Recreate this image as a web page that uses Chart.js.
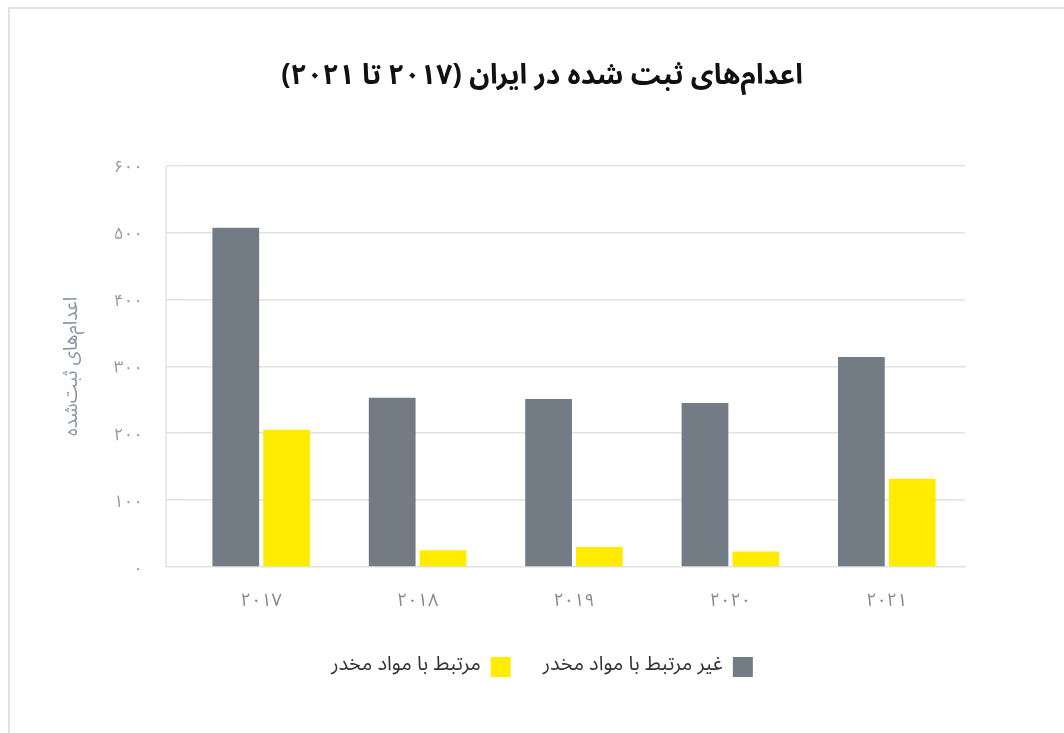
<!DOCTYPE html>
<html><head><meta charset="utf-8">
<script src="https://cdn.jsdelivr.net/npm/chart.js@4"></script>
<style>
html,body{margin:0;padding:0;background:#fff;overflow:hidden;width:1064px;height:733px}
#frame{position:absolute;left:8px;top:7px;width:1100px;height:800px;border-top:2px solid #e2e2e2;border-left:2px solid #e2e2e2}
#c{position:absolute;left:20px;top:0}
</style></head><body>
<div id="frame"></div>
<canvas id="c" width="1044" height="733" dir="rtl"></canvas>
<script>
const categories = ['۲۰۱۷','۲۰۱۸','۲۰۱۹','۲۰۲۰','۲۰۲۱'];
const nonDrugValues = [507, 253, 251, 245, 314];
const drugValues = [205, 25, 30, 23, 132];
const yTickLabels = ['۰','۱۰۰','۲۰۰','۳۰۰','۴۰۰','۵۰۰','۶۰۰'];
const seriesNames = ['غیر مرتبط با مواد مخدر','مرتبط با مواد مخدر'];
const titleText = 'اعدام‌های ثبت شده در ایران (۲۰۱۷ تا ۲۰۲۱)';
const yAxisTitle = 'اعدام‌های ثبت‌شده';

const FF = "'Noto Sans Arabic','Vazirmatn','DejaVu Sans',sans-serif";
const GRID = '#e2e2e2';

const leftLine = {
  id: 'leftLine',
  beforeDatasetsDraw(chart) {
    const {ctx, chartArea, scales: {y}} = chart;
    const x = chartArea.left - y.options.grid.tickLength;
    ctx.save();
    ctx.strokeStyle = GRID;
    ctx.lineWidth = 1.5;
    ctx.beginPath();
    ctx.moveTo(x, y.top);
    ctx.lineTo(x, y.bottom);
    ctx.stroke();
    ctx.restore();
  }
};

new Chart(document.getElementById('c'), {
  type: 'bar',
  data: {
    labels: categories,
    datasets: [
      {label: seriesNames[0], data: nonDrugValues, backgroundColor: '#737b85', borderWidth: 0,
       categoryPercentage: 0.65, barPercentage: 0.92},
      {label: seriesNames[1], data: drugValues, backgroundColor: '#ffec00', borderWidth: 0,
       categoryPercentage: 0.65, barPercentage: 0.92}
    ]
  },
  options: {
    responsive: false,
    animation: false,
    layout: {padding: {left: 40, right: 40, top: 0, bottom: 46}},
    plugins: {
      title: {
        display: true, text: titleText, color: '#111',
        font: {family: FF, size: 28, weight: 'bold'},
        padding: {top: 63, bottom: 69}
      },
      legend: {
        position: 'bottom', rtl: true, textDirection: 'rtl',
        labels: {boxWidth: 20, boxHeight: 20, padding: 32, color: '#333',
                 font: {family: FF, size: 20}}
      },
      tooltip: {enabled: false}
    },
    scales: {
      x: {
        grid: {display: false, drawTicks: false},
        border: {display: false},
        ticks: {color: '#888', padding: 25, font: {family: FF, size: 18}},
        afterFit(s) { s.height = 58; }
      },
      y: {
        min: 0, max: 600,
        grid: {color: GRID, lineWidth: 1.5, drawTicks: true, tickLength: 17, tickColor: GRID},
        border: {display: false},
        ticks: {stepSize: 100, padding: 23, labelOffset: 4, color: '#999', font: {family: FF, size: 17},
                callback: (v) => yTickLabels[v / 100]},
        title: {display: true, text: yAxisTitle, color: '#8796a5',
                font: {family: FF, size: 19}, padding: {top: 3, bottom: 0}},
        afterFit(s) { s.width = 123; }
      },
      yRight: {
        position: 'right', min: 0, max: 600,
        grid: {display: false, drawTicks: false},
        border: {display: false},
        ticks: {display: false},
        afterFit(s) { s.width = 59; }
      }
    }
  },
  plugins: [leftLine]
});
</script>
</body></html>
